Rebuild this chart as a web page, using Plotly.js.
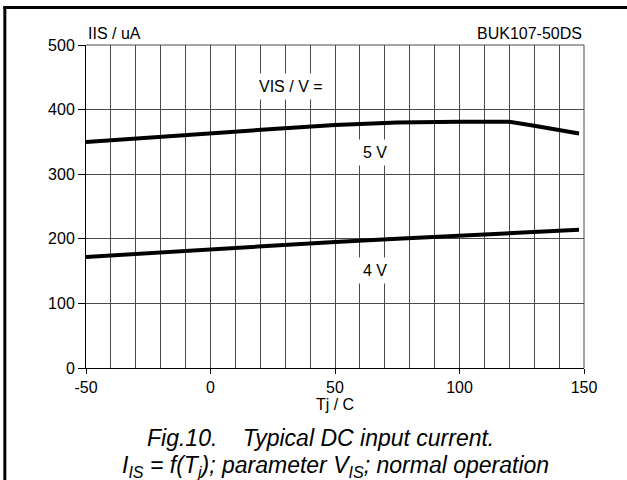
<!DOCTYPE html>
<html>
<head>
<meta charset="utf-8">
<script src="https://cdn.plot.ly/plotly-3.0.1.min.js"></script>
<style>
  html, body { margin: 0; padding: 0; background: #fff; }
  #chart { width: 627px; height: 480px; }
</style>
</head>
<body>
<div id="chart"></div>
<script>
// Data
const tj5 = [-50, -25, 0, 25, 50, 75, 100, 120, 130, 148];
const iis5 = [350, 357, 364, 370, 376, 380, 381, 381, 375, 363];
const tj4 = [-50, -25, 0, 25, 50, 75, 100, 125, 148];
const iis4 = [172, 178, 184, 190, 195, 200, 205, 209, 214];

const xTickVals = [-50, 0, 50, 100, 150];
const xTickText = ["-50", "0", "50", "100", "150"];
const yTickVals = [0, 100, 200, 300, 400, 500];
const yTickText = ["0", "100", "200", "300", "400", "500"];

const labelText = ["VIS / V =", "5 V", "4 V"];
const labelX = [32.5, 66, 66];
const labelY = [435, 334, 151];

const FONT = "Liberation Sans, Arial, Helvetica, sans-serif";

const traces = [
  { x: tj5, y: iis5, mode: "lines", line: { color: "#000", width: 4 }, hoverinfo: "skip", name: "5 V" },
  { x: tj4, y: iis4, mode: "lines", line: { color: "#000", width: 4 }, hoverinfo: "skip", name: "4 V" }
];

const annotations = labelText.map((t, i) => ({
  x: labelX[i], y: labelY[i], xref: "x", yref: "y", text: t, showarrow: false,
  bgcolor: "#fff", borderpad: 4, font: { family: FONT, size: 16, color: "#000" }
}));

annotations.push(
  { xref: "paper", yref: "paper", x: 0, y: 1, xanchor: "left", yanchor: "bottom", yshift: 1,
    text: "IIS / uA", showarrow: false, font: { family: FONT, size: 16, color: "#000" } },
  { xref: "paper", yref: "paper", x: 1, y: 1, xanchor: "right", yanchor: "bottom", yshift: 1,
    text: "BUK107-50DS", showarrow: false, font: { family: FONT, size: 16, color: "#000" } },
  { xref: "paper", yref: "paper", x: 0.47, y: -0.17, xanchor: "center", yanchor: "top",
    text: "<i>Fig.10.    Typical DC input current.</i>", showarrow: false,
    font: { family: FONT, size: 23, color: "#000" } },
  { xref: "paper", yref: "paper", x: 0.5, y: -0.255, xanchor: "center", yanchor: "top",
    text: "<i>I<sub>IS</sub> = f(T<sub>j</sub>); parameter V<sub>IS</sub>; normal operation</i>", showarrow: false,
    font: { family: FONT, size: 23, color: "#000" } }
);

const layout = {
  width: 627, height: 480,
  margin: { l: 86, r: 43, t: 45, b: 111.5 },
  paper_bgcolor: "#fff", plot_bgcolor: "#fff",
  showlegend: false,
  font: { family: FONT, size: 16, color: "#000" },
  xaxis: {
    range: [-50, 150], tickvals: xTickVals, ticktext: xTickText, ticks: "outside", ticklen: 5, tickcolor: "#000",
    showgrid: false, zeroline: false, showline: true, linecolor: "#000", linewidth: 1,
    title: { text: "Tj / C", font: { family: FONT, size: 16, color: "#000" }, standoff: 1 },
    tickfont: { family: FONT, size: 16, color: "#000" },
    minor: { dtick: 10, tick0: -50, showgrid: true, gridcolor: "#4a4a4a", gridwidth: 1, ticks: "" }
  },
  yaxis: {
    range: [0, 500], tickvals: yTickVals, ticktext: yTickText, ticks: "outside", ticklen: 7, tickcolor: "#000",
    showgrid: true, gridcolor: "#4a4a4a", gridwidth: 1, zeroline: false, showline: true,
    linecolor: "#000", linewidth: 1,
    tickfont: { family: FONT, size: 16, color: "#000" }
  },
  annotations: annotations,
  shapes: [
    { type: "line", xref: "paper", yref: "paper", x0: 1, x1: 1, y0: 0, y1: 1, line: { color: "#4a4a4a", width: 1 } },
    { type: "line", xref: "paper", yref: "paper", x0: 0, x1: 1, y0: 1, y1: 1, line: { color: "#4a4a4a", width: 1 } },
    { type: "line", xref: "paper", yref: "paper", x0: -0.163, x1: -0.163, y0: -0.35, y1: 1.119, line: { color: "#000", width: 3 } },
    { type: "line", xref: "paper", yref: "paper", x0: -0.166, x1: 1.1, y0: 1.116, y1: 1.116, line: { color: "#000", width: 3 } }
  ]
};

Plotly.newPlot("chart", traces, layout, { staticPlot: true, displayModeBar: false });
</script>
</body>
</html>
